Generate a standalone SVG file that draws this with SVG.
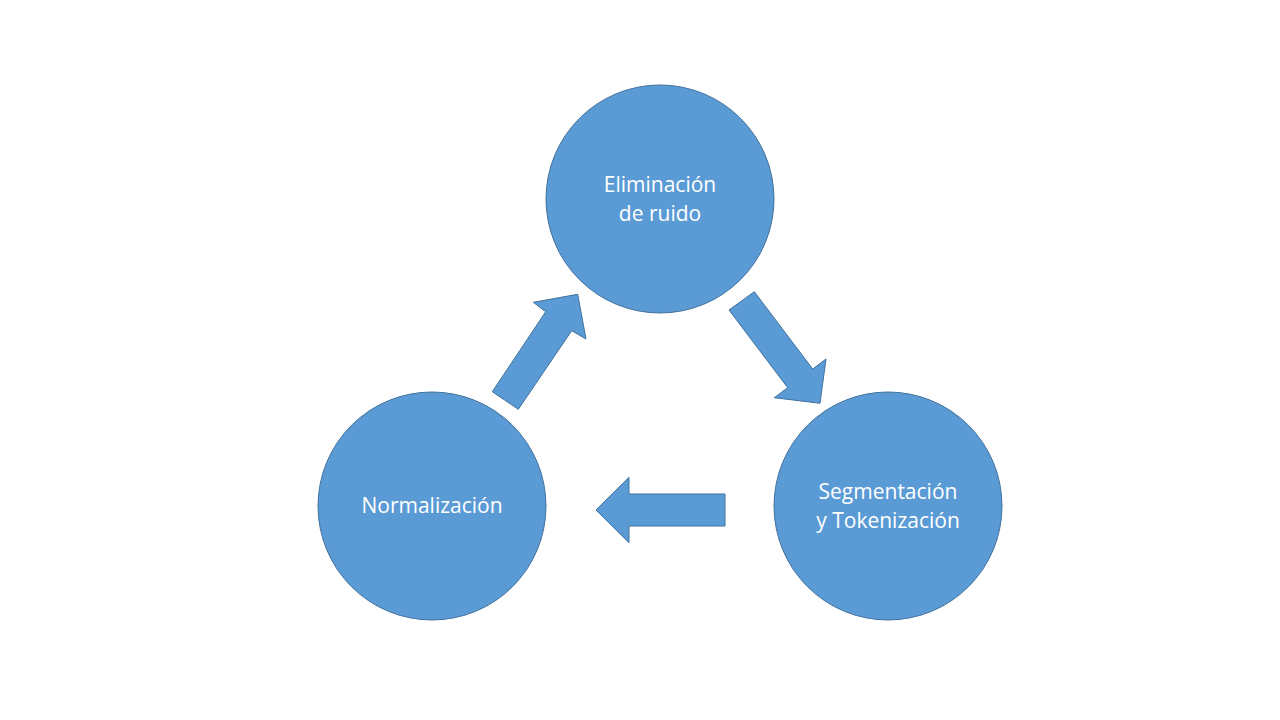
<svg xmlns="http://www.w3.org/2000/svg" width="1280" height="720" viewBox="0 0 1280 720">
<style>
.n{fill:#5B9BD5;stroke:#41719C;stroke-width:1}
.a{fill:#5B9BD5;stroke:#41719C;stroke-width:1;stroke-linejoin:miter}
.t{fill:#FFFFFF;font-family:"Open Sans","Liberation Sans",sans-serif;font-size:21px;text-anchor:middle}
</style>
<rect width="1280" height="720" fill="#FFFFFF"/>
<g id="node-eliminacion">
<circle class="n" cx="660" cy="199" r="114"/>
<text class="t" x="660" y="192">Eliminación</text>
<text class="t" x="660" y="221">de ruido</text>
</g>
<g id="node-segmentacion">
<circle class="n" cx="888" cy="506" r="114"/>
<text class="t" x="888" y="499">Segmentación</text>
<text class="t" x="888" y="528">y Tokenización</text>
</g>
<g id="node-normalizacion">
<circle class="n" cx="432" cy="506" r="114"/>
<text class="t" x="432" y="513">Normalización</text>
</g>
<g id="connectors">
<polygon class="a" points="492.3,391.7 518.3,409.3 571.7,330.7 586,339 577.7,294.3 533.3,302.3 545.7,311.7"/>
<polygon class="a" points="729,310 754.3,291.7 812.7,369 826,359 820,403.3 774.3,397.7 787.7,387.7"/>
<polygon class="a" points="725,494 725,526 629,526 629,542.7 596,510 629,477.3 629,494"/>
</g>
</svg>
